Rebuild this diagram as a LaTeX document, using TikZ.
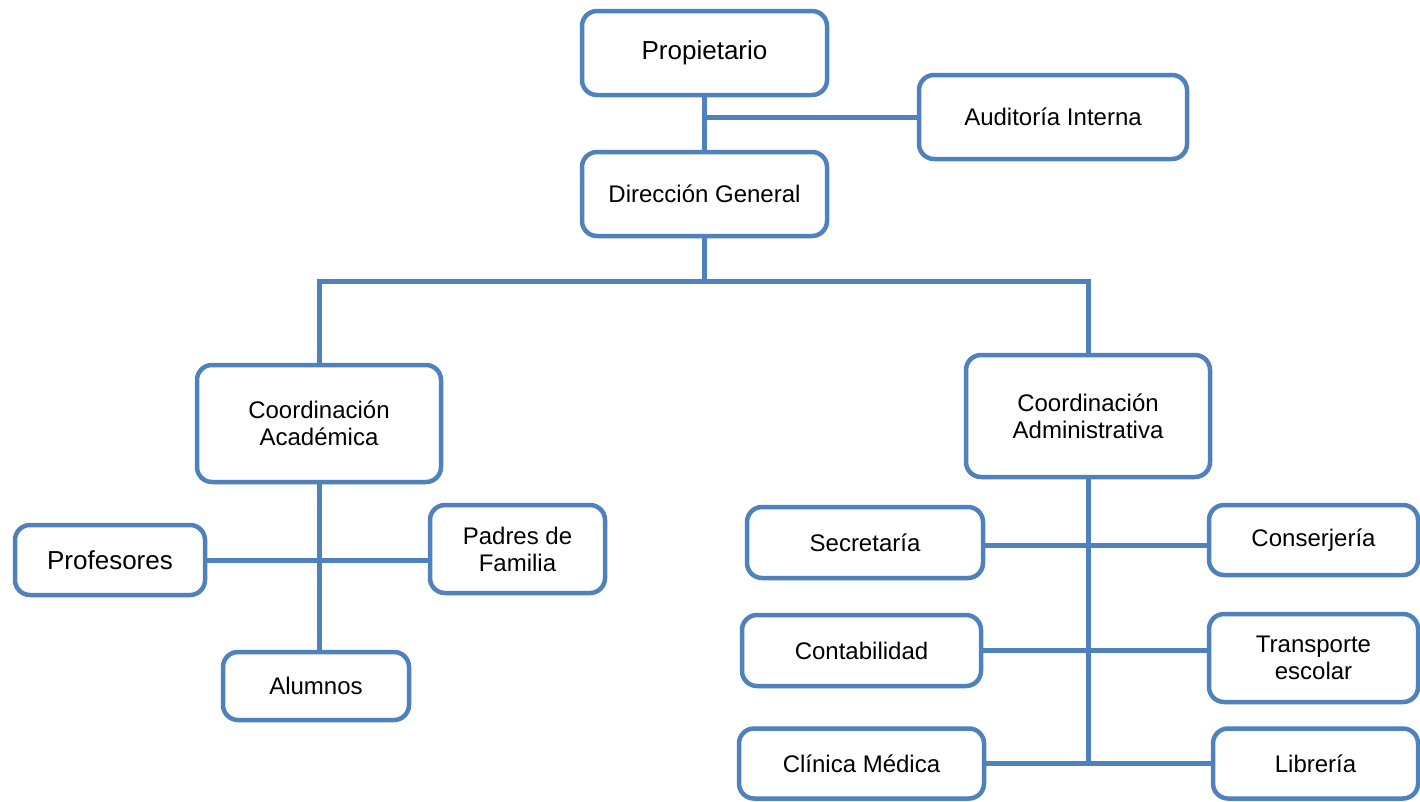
\documentclass[tikz,border=0pt]{standalone}
\usepackage{fontspec}
\setmainfont{Liberation Sans}
\definecolor{orgblue}{HTML}{4F81BD}
\tikzset{
  box/.style={draw=orgblue, line width=4.5pt, fill=white, rounded corners=15pt,
    inner sep=0pt, align=center, text=black, font=\fontsize{24}{27}\selectfont},
  bigtext/.style={font=\fontsize{26}{29}\selectfont},
  link/.style={draw=orgblue, line width=5pt}
}
\begin{document}
\begin{tikzpicture}[x=1pt,y=-1pt]
\useasboundingbox (0,0) rectangle (1420,801);
\fill[white] (0,0) rectangle (1420,801);
% nodes
\node[box,bigtext,minimum width=245pt,minimum height=84pt] (prop) at (704.5,53) {Propietario};
\node[box,minimum width=268pt,minimum height=84pt] (aud) at (1053,117) {Auditoría Interna};
\node[box,minimum width=245pt,minimum height=84pt] (dir) at (704.5,194) {Dirección General};
\node[box,minimum width=244pt,minimum height=117pt] (ca) at (319,423.5) {Coordinación\\Académica};
\node[box,minimum width=244pt,minimum height=122pt] (cadm) at (1088,416) {Coordinación\\Administrativa};
\node[box,bigtext,minimum width=190pt,minimum height=70pt] (prof) at (110,560) {Profesores};
\node[box,minimum width=175pt,minimum height=88pt] (pad) at (517.5,549) {Padres de\\Familia};
\node[box,minimum width=186pt,minimum height=68pt] (alu) at (316,686) {Alumnos};
\node[box,minimum width=236pt,minimum height=71pt] (sec) at (865,542.5) {Secretaría};
\node[box,minimum width=209pt,minimum height=70pt] (cons) at (1313.5,540) {Conserjería};
\node[box,minimum width=239pt,minimum height=71pt] (cont) at (861.5,650.5) {Contabilidad};
\node[box,minimum width=209pt,minimum height=88pt] (trans) at (1313.5,658) {Transporte\\escolar};
\node[box,minimum width=245pt,minimum height=70pt] (clin) at (861.5,763.5) {Clínica Médica};
\node[box,minimum width=205pt,minimum height=70pt] (lib) at (1315.5,763.5) {Librería};
% connectors
\coordinate (topjoin) at (704.5,281);
\draw[link] (prop.south) -- (dir.north);
\draw[link] (aud.west) -- (aud.west -| prop.south);
\draw[link] (dir.south) -- (topjoin);
\draw[link] (ca.north) |- (topjoin) -| (cadm.north);
\draw[link] (ca.south) -- (ca.south |- alu.north);
\draw[link] (prof.east) -- (prof.east -| pad.west);
\draw[link] (cadm.south) -- (cadm.south |- clin.east);
\draw[link] ([yshift=-3pt]sec.east) -- ([yshift=-3pt]sec.east -| cons.west);
\draw[link] (cont.east) -- (cont.east -| trans.west);
\draw[link] (clin.east) -- (lib.west);
\end{tikzpicture}
\end{document}
